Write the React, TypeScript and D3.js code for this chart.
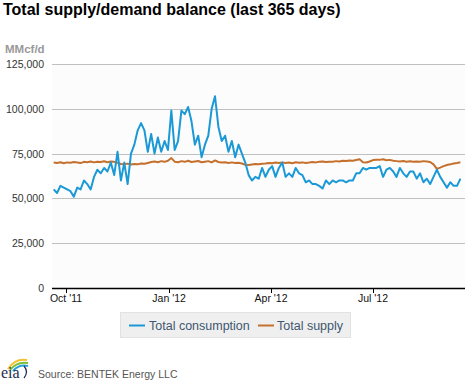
import React from "react";
import * as d3 from "d3";

// Daily series sampled every 3 days, starting 2011-09-20
const START_DATE = Date.UTC(2011, 8, 20);
const STEP_DAYS = 3;

const consumption = [
  55, 53, 57, 56, 55, 54, 51, 56, 55, 60,
  58, 55, 62, 66, 64, 67, 65, 70, 63, 76,
  60, 70, 58, 75, 80, 88, 92, 88, 76, 86,
  75, 84, 76, 82, 77, 99, 77, 82, 99, 97,
  101, 93, 80, 85, 73, 80, 85, 100, 107, 90,
  82, 85, 76, 82, 73, 80, 75, 70, 63, 60,
  62, 61, 67, 62, 66, 68, 62, 67, 70, 62,
  64, 62, 67, 64, 63, 59, 60, 58, 58, 57,
  55.5, 60, 58, 60, 59, 60, 60, 59, 60, 60,
  64, 64, 67, 66, 67, 67, 67, 68, 62, 66,
  67, 65, 62, 67, 64, 62, 65, 65, 61, 64,
  59, 61, 58, 62, 66, 62, 59, 56, 59, 57,
  57, 61,
].map((v) => v * 1000);

const supply = [
  70.0, 69.8, 70.2, 69.6, 70.1, 69.9, 70.3, 70.0, 69.7, 70.4,
  70.2, 70.6, 70.1, 70.5, 70.3, 70.7, 70.2, 70.6, 70.4, 69.8,
  69.2, 69.0, 69.4, 68.9, 69.2, 69.0, 69.5, 69.3, 69.8, 70.3,
  70.6, 70.2, 70.8, 70.4, 71.0, 72.5, 70.5, 70.2, 70.8, 70.4,
  71.0, 70.3, 70.6, 70.9, 70.2, 70.5, 70.8, 70.1, 71.2, 70.3,
  70.0, 70.2, 69.8, 70.1, 69.7, 69.9, 69.5, 68.8, 68.6, 68.9,
  69.2, 69.0, 69.3, 69.5, 69.8, 69.6, 70.0, 69.7, 70.1, 69.8,
  70.0, 69.6, 70.2, 69.9, 70.1, 69.8, 70.0, 70.3, 70.1, 70.4,
  70.6, 70.3, 70.5, 70.4, 70.8, 70.6, 71.0, 70.9, 71.2, 71.0,
  71.4, 71.8, 70.2, 70.0, 70.6, 71.4, 71.6, 71.5, 71.8, 71.3,
  71.5, 71.0, 70.8, 70.6, 70.9, 70.5, 70.7, 70.4, 70.6, 70.5,
  70.8, 70.6, 70.3, 69.0, 66.5, 67.2, 68.0, 68.6, 69.0, 69.5,
  69.8, 70.2,
].map((v) => v * 1000);

const yTicks = [0, 25000, 50000, 75000, 100000, 125000];
const xTickDates = [
  Date.UTC(2011, 9, 1),
  Date.UTC(2012, 0, 1),
  Date.UTC(2012, 3, 1),
  Date.UTC(2012, 6, 1),
];
const xTickLabels = ["Oct '11", "Jan '12", "Apr '12", "Jul '12"];

const seriesNames = ["Total consumption", "Total supply"];
const seriesColors = ["#1a99d6", "#c5702d"];

const TITLE = "Total supply/demand balance (last 365 days)";
const UNIT = "MMcf/d";
const SOURCE = "Source: BENTEK Energy LLC";

export default function App() {
  const W = 470;
  const H = 383;
  const plotLeft = 52;
  const plotRight = 465;
  const plotTop = 64;
  const plotBottom = 288;

  const x = d3
    .scaleUtc()
    .domain([new Date(xTickDates[0]), new Date(xTickDates[3])])
    .range([66, 373]);
  const y = d3.scaleLinear().domain([0, 125000]).range([plotBottom, plotTop]);

  const dates = consumption.map(
    (_, i) => new Date(START_DATE + i * STEP_DAYS * 86400000)
  );

  const line = d3
    .line<number>()
    .x((_, i) => x(dates[i]))
    .y((d) => y(d));

  const fmt = d3.format(",");
  const font = "'Liberation Sans', Arial, sans-serif";

  return (
    <svg
      width={W}
      height={H}
      style={{ position: "absolute", left: 0, top: 0, background: "#fff" }}
      fontFamily={font}
    >
      <text x={3} y={15} fontSize={16} fontWeight="bold" fill="#000">
        {TITLE}
      </text>
      <text x={5} y={53} fontSize={11.5} fontWeight="bold" fill="#999">
        {UNIT}
      </text>

      <rect
        x={plotLeft}
        y={plotTop}
        width={plotRight - plotLeft}
        height={plotBottom - plotTop}
        fill="#fcfcfc"
      />

      {yTicks.map((t) => (
        <g key={t}>
          {t > 0 && (
            <line
              x1={plotLeft}
              x2={plotRight}
              y1={Math.round(y(t)) + 0.5}
              y2={Math.round(y(t)) + 0.5}
              stroke="#c0c0c0"
              strokeWidth={1}
            />
          )}
          <text
            x={44}
            y={y(t) + 4}
            fontSize={10.5}
            fill="#333"
            textAnchor="end"
          >
            {fmt(t)}
          </text>
        </g>
      ))}

      <line
        x1={plotLeft}
        x2={plotRight}
        y1={plotBottom + 0.5}
        y2={plotBottom + 0.5}
        stroke="#000"
        strokeWidth={1.5}
      />
      {xTickDates.map((d, i) => (
        <g key={d}>
          <line
            x1={Math.round(x(new Date(d))) + 0.5}
            x2={Math.round(x(new Date(d))) + 0.5}
            y1={plotBottom}
            y2={plotBottom + 5}
            stroke="#000"
            strokeWidth={1}
          />
          <text
            x={x(new Date(d))}
            y={302}
            fontSize={10.5}
            fill="#111"
            textAnchor="middle"
          >
            {xTickLabels[i]}
          </text>
        </g>
      ))}

      <path
        d={line(supply) || ""}
        fill="none"
        stroke={seriesColors[1]}
        strokeWidth={2}
        strokeLinejoin="round"
      />
      <path
        d={line(consumption) || ""}
        fill="none"
        stroke={seriesColors[0]}
        strokeWidth={2}
        strokeLinejoin="round"
      />

      {/* Legend */}
      <rect
        x={120.5}
        y={312.5}
        width={230}
        height={25}
        fill="#efefef"
        stroke="#e2e2e2"
      />
      <line x1={129} x2={145} y1={325.5} y2={325.5} stroke={seriesColors[0]} strokeWidth={2} />
      <text x={149} y={329.5} fontSize={12.5} fill="#3e576f">
        {seriesNames[0]}
      </text>
      <line x1={258} x2={274} y1={325.5} y2={325.5} stroke={seriesColors[1]} strokeWidth={2} />
      <text x={277} y={329.5} fontSize={12.5} fill="#3e576f">
        {seriesNames[1]}
      </text>

      {/* EIA logo */}
      <g>
        <path d="M8,369 Q15,358 27,360" fill="none" stroke="#f2c230" strokeWidth={2} />
        <path d="M10,370 Q17,361 28,363" fill="none" stroke="#7cbf3c" strokeWidth={2} />
        <path d="M13,371 Q19,364 28,366" fill="none" stroke="#2a9fd8" strokeWidth={2} />
        <text
          x={1}
          y={378}
          fontSize={16}
          fontFamily="'Liberation Serif', 'DejaVu Serif', serif"
          fill="#1e2d50"
        >
          eia
        </text>
        <path d="M24,366 Q29,372 24,378" fill="none" stroke="#1e2d50" strokeWidth={1.2} />
      </g>
      <text x={38} y={378} fontSize={10.5} fill="#555">
        {SOURCE}
      </text>
    </svg>
  );
}
